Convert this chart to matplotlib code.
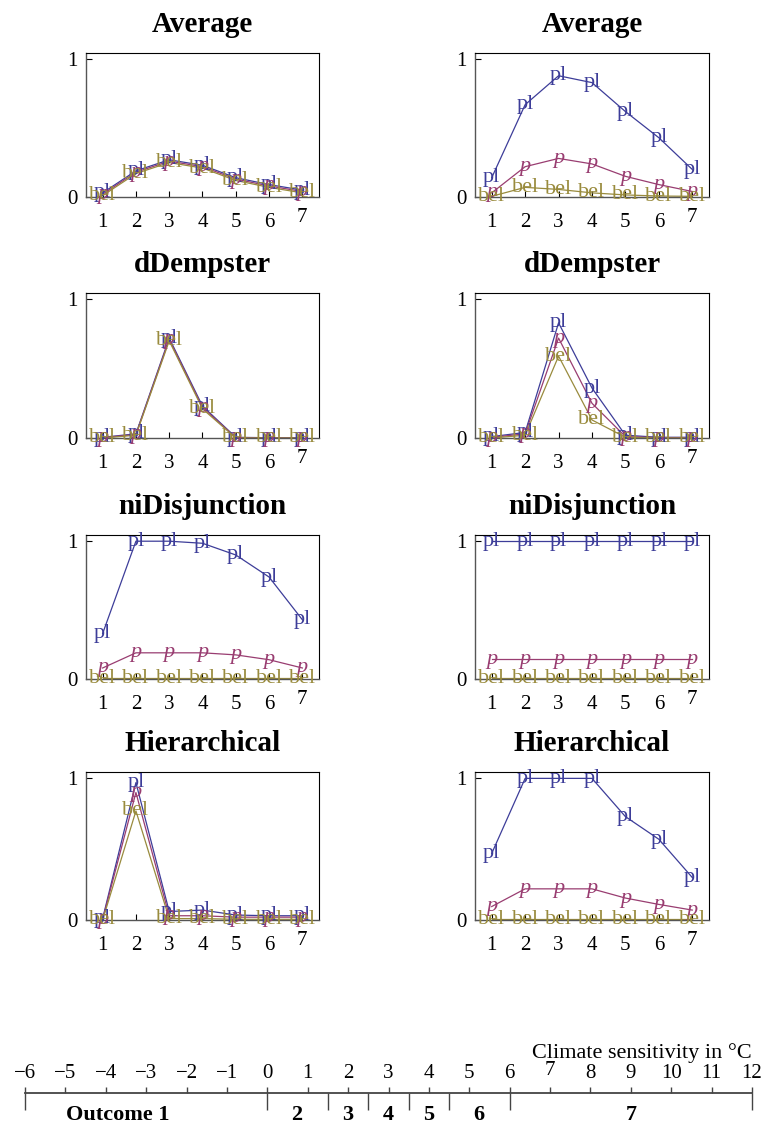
import matplotlib.pyplot as plt
from matplotlib.transforms import ScaledTranslation

plt.rcParams['font.family'] = ['Liberation Serif', 'DejaVu Serif']

outcomes = [1, 2, 3, 4, 5, 6, 7]
titles = ['Average', 'dDempster', 'niDisjunction', 'Hierarchical']
series_names = ['pl', 'p', 'bel']
series_colors = ['#3d3d99', '#993d71', '#998b3d']

# left column
avg_l_pl = [0.03, 0.19, 0.27, 0.23, 0.14, 0.09, 0.05]
avg_l_p = [0.02, 0.18, 0.26, 0.22, 0.13, 0.08, 0.04]
avg_l_bel = [0.01, 0.17, 0.25, 0.21, 0.12, 0.07, 0.03]
dd_l_pl = [0.005, 0.03, 0.72, 0.23, 0.005, 0.002, 0.002]
dd_l_p = [0.003, 0.025, 0.71, 0.22, 0.003, 0.001, 0.001]
dd_l_bel = [0.0, 0.02, 0.70, 0.21, 0.0, 0.0, 0.0]
ni_l_pl = [0.33, 1.0, 1.0, 0.985, 0.90, 0.74, 0.43]
ni_l_p = [0.08, 0.19, 0.19, 0.19, 0.175, 0.14, 0.08]
ni_l_bel = [0.005, 0.005, 0.005, 0.005, 0.005, 0.005, 0.005]
hi_l_pl = [0.01, 0.97, 0.06, 0.07, 0.035, 0.03, 0.03]
hi_l_p = [0.005, 0.90, 0.03, 0.03, 0.02, 0.02, 0.02]
hi_l_bel = [0.0, 0.77, 0.01, 0.01, 0.005, 0.005, 0.005]

# right column
avg_r_pl = [0.14, 0.67, 0.88, 0.83, 0.62, 0.43, 0.20]
avg_r_p = [0.03, 0.22, 0.28, 0.24, 0.15, 0.09, 0.04]
avg_r_bel = [0.005, 0.07, 0.055, 0.03, 0.015, 0.007, 0.005]
dd_r_pl = [0.01, 0.04, 0.83, 0.36, 0.02, 0.005, 0.005]
dd_r_p = [0.005, 0.03, 0.72, 0.25, 0.01, 0.003, 0.003]
dd_r_bel = [0.0, 0.02, 0.59, 0.13, 0.005, 0.0, 0.0]
ni_r_pl = [1.0, 1.0, 1.0, 1.0, 1.0, 1.0, 1.0]
ni_r_p = [0.143, 0.143, 0.143, 0.143, 0.143, 0.143, 0.143]
ni_r_bel = [0.005, 0.005, 0.005, 0.005, 0.005, 0.005, 0.005]
hi_r_pl = [0.47, 1.0, 1.0, 1.0, 0.73, 0.57, 0.30]
hi_r_p = [0.095, 0.22, 0.22, 0.22, 0.155, 0.11, 0.07]
hi_r_bel = [0.005, 0.005, 0.005, 0.005, 0.005, 0.005, 0.005]

left_col = [(avg_l_pl, avg_l_p, avg_l_bel), (dd_l_pl, dd_l_p, dd_l_bel),
            (ni_l_pl, ni_l_p, ni_l_bel), (hi_l_pl, hi_l_p, hi_l_bel)]
right_col = [(avg_r_pl, avg_r_p, avg_r_bel), (dd_r_pl, dd_r_p, dd_r_bel),
             (ni_r_pl, ni_r_p, ni_r_bel), (hi_r_pl, hi_r_p, hi_r_bel)]

# climate sensitivity scale
scale_ticks = list(range(-6, 13))
bounds = [-6, 0, 1.5, 2.5, 3.5, 4.5, 6, 12]
bin_labels = ['Outcome 1', '2', '3', '4', '5', '6', '7']
bin_centers = [-3.7, 0.73, 2.0, 3.0, 4.0, 5.24, 9.0]

W, H = 765, 1124
fig = plt.figure(figsize=(W / 100, H / 100), dpi=100)

rows_px = [(53, 197), (293, 438), (535, 679), (772, 920)]
cols_px = [(86, 319), (475, 709)]
raise7 = ScaledTranslation(0, 5 / 100, fig.dpi_scale_trans)


def panel(x0, x1, y0, y1, title, data):
    ax = fig.add_axes([x0 / W, 1 - y1 / H, (x1 - x0) / W, (y1 - y0) / H])
    for vals, name, col in zip(data, series_names, series_colors):
        ax.plot(outcomes, vals, color=col, lw=0.9, zorder=2)
    for vals, name, col in zip(data, series_names, series_colors):
        style = 'italic' if name == 'p' else 'normal'
        for xv, yv in zip(outcomes, vals):
            ax.text(xv, yv, name, color=col, fontsize=16, style=style,
                    ha='center', va='center', zorder=3, clip_on=False)
    ax.set_xlim(0.5, 7.5)
    ax.set_ylim(0, 1.045)
    ax.set_xticks(outcomes)
    ax.set_yticks([0, 1])
    ax.tick_params(direction='in', length=4, width=0.8, labelsize=15)
    ax.tick_params(axis='x', pad=11.5)
    ax.tick_params(axis='y', pad=6)
    for s in ['left', 'bottom']:
        ax.spines[s].set_color('#555555')
        ax.spines[s].set_linewidth(1.0)
    for s in ['top', 'right']:
        ax.spines[s].set_linewidth(0.8)
    ax.set_title(title, fontsize=21, fontweight='bold', pad=15)
    lab7 = ax.get_xticklabels()[-1]
    lab7.set_transform(lab7.get_transform() + raise7)
    return ax


for r, (y0, y1) in enumerate(rows_px):
    panel(cols_px[0][0], cols_px[0][1], y0, y1, titles[r], left_col[r])
    panel(cols_px[1][0], cols_px[1][1], y0, y1, titles[r], right_col[r])

# number line at the bottom
line_y, low_y = 1093, 1110
ax = fig.add_axes([25 / W, 1 - low_y / H, 727 / W, (low_y - line_y) / H])
ax.set_xlim(-6, 12)
ax.set_ylim(0, 1)
for s in ['left', 'right', 'bottom']:
    ax.spines[s].set_visible(False)
ax.spines['top'].set_color('#444444')
ax.spines['top'].set_linewidth(1.3)
ax.xaxis.tick_top()
ax.set_xticks(scale_ticks)
ax.tick_params(axis='x', direction='out', length=4, width=1.0, color='#444444',
               labelsize=15, pad=3)
ax.set_yticks([])
ax.patch.set_alpha(0)
raise3 = ScaledTranslation(0, 3 / 100, fig.dpi_scale_trans)
lab7 = ax.get_xticklabels()[scale_ticks.index(7)]
lab7.set_transform(lab7.get_transform() + raise3)
ax.vlines(bounds, 0, 1, color='#444444', lw=1.0, clip_on=False)
for xc, lab in zip(bin_centers, bin_labels):
    ax.text(xc, -0.3, lab, ha='center', va='center', fontsize=16,
            fontweight='bold', clip_on=False)
ax.text(12, 3.35, 'Climate sensitivity in \u00b0C', ha='right', va='center',
        fontsize=16, clip_on=False)

fig.savefig('out.png', dpi=100)
